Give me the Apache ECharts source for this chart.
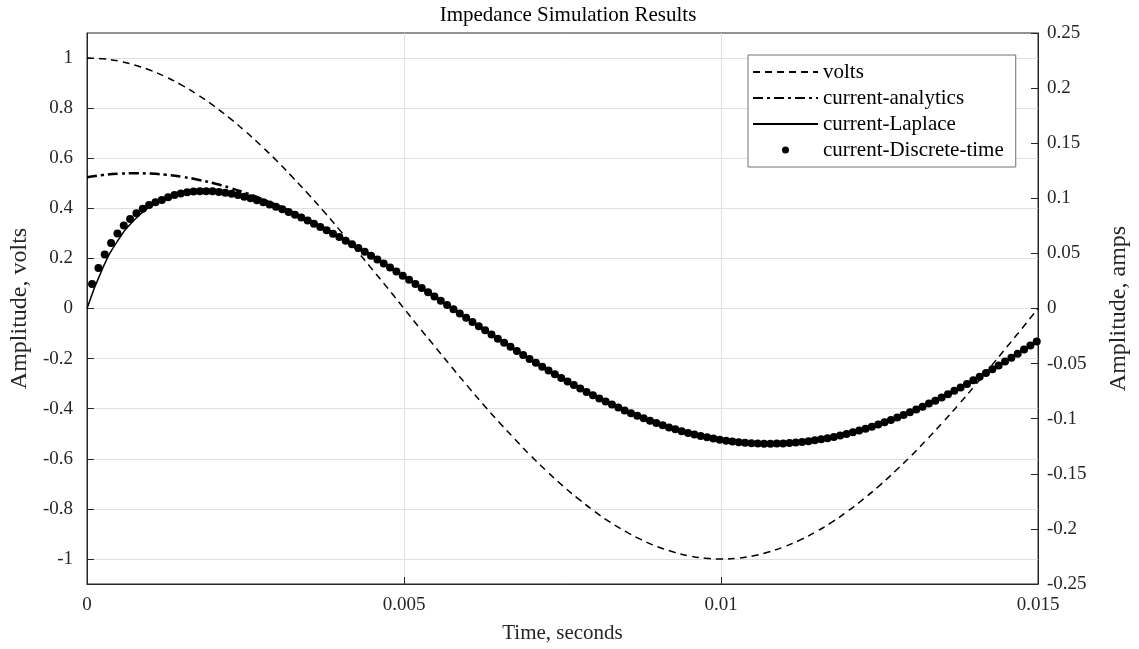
<!DOCTYPE html>
<html>
<head>
<meta charset="utf-8">
<title>Impedance Simulation Results</title>
<script src="https://cdn.jsdelivr.net/npm/echarts@6/dist/echarts.min.js"></script>
<style>
  html, body { margin: 0; padding: 0; background: #fff; }
  #chart { width: 1139px; height: 649px; }
</style>
</head>
<body>
<div id="chart"></div>
<script>
// sample step of the line curves (seconds)
const lineStep = 0.00025;
// discrete-time samples: first instant and step (seconds)
const dotStart = 0.00008;
const dotStep = 0.0001;

// volts, left axis
const volts = [
  1, 0.997, 0.988, 0.972, 0.951, 0.924, 0.891, 0.853, 0.809, 0.760,
  0.707, 0.649, 0.588, 0.522, 0.454, 0.383, 0.309, 0.233, 0.156, 0.079,
  0, -0.079, -0.156, -0.233, -0.309, -0.383, -0.454, -0.522, -0.588, -0.649,
  -0.707, -0.760, -0.809, -0.853, -0.891, -0.924, -0.951, -0.972, -0.988, -0.997,
  -1, -0.997, -0.988, -0.972, -0.951, -0.924, -0.891, -0.853, -0.809, -0.760,
  -0.707, -0.649, -0.588, -0.522, -0.454, -0.383, -0.309, -0.233, -0.156, -0.079,
  0
];

// current (amps), right axis
const currentAnalytic = [
  0.1192, 0.1211, 0.1223, 0.1227, 0.1224, 0.1213, 0.1195, 0.1169, 0.1136, 0.1096,
  0.1049, 0.0996, 0.0937, 0.0872, 0.0801, 0.0726, 0.0646, 0.0562, 0.0475, 0.0384,
  0.0292, 0.0197, 0.0102, 0.0005, -0.0091, -0.0187, -0.0281, -0.0374, -0.0465, -0.0552,
  -0.0637, -0.0717, -0.0793, -0.0864, -0.0930, -0.0990, -0.1044, -0.1091, -0.1132, -0.1166,
  -0.1192, -0.1211, -0.1223, -0.1227, -0.1224, -0.1213, -0.1195, -0.1169, -0.1136, -0.1096,
  -0.1049, -0.0996, -0.0937, -0.0872, -0.0801, -0.0726, -0.0646, -0.0562, -0.0475, -0.0384,
  -0.0292
];

const currentLaplace = [
  0, 0.0369, 0.0628, 0.0806, 0.0927, 0.1003, 0.1047, 0.1064, 0.1062, 0.1044,
  0.1012, 0.0970, 0.0919, 0.0859, 0.0792, 0.0719, 0.0641, 0.0559, 0.0473, 0.0382,
  0.0291, 0.0196, 0.0101, 0.0004, -0.0092, -0.0188, -0.0281, -0.0374, -0.0465, -0.0552,
  -0.0637, -0.0717, -0.0793, -0.0864, -0.0930, -0.0990, -0.1044, -0.1091, -0.1132, -0.1166,
  -0.1192, -0.1211, -0.1223, -0.1227, -0.1224, -0.1213, -0.1195, -0.1169, -0.1136, -0.1096,
  -0.1049, -0.0996, -0.0937, -0.0872, -0.0801, -0.0726, -0.0646, -0.0562, -0.0475, -0.0384,
  -0.0292
];

const currentDiscrete = [
  0.0222, 0.0368, 0.0490, 0.0595, 0.0680, 0.0753, 0.0813, 0.0864, 0.0905, 0.0939,
  0.0965, 0.0985, 0.1010, 0.1029, 0.1044, 0.1054, 0.1061, 0.1065, 0.1065, 0.1063,
  0.1058, 0.1050, 0.1041, 0.1029, 0.1015, 0.1000, 0.0983, 0.0964, 0.0944, 0.0923,
  0.0900, 0.0876, 0.0851, 0.0825, 0.0798, 0.0770, 0.0740, 0.0710, 0.0679, 0.0648,
  0.0615, 0.0582, 0.0549, 0.0514, 0.0479, 0.0444, 0.0408, 0.0372, 0.0335, 0.0298,
  0.0261, 0.0223, 0.0185, 0.0147, 0.0109, 0.0071, 0.0032, -0.0006, -0.0045, -0.0083,
  -0.0122, -0.0160, -0.0198, -0.0236, -0.0274, -0.0311, -0.0348, -0.0385, -0.0422, -0.0458,
  -0.0493, -0.0528, -0.0563, -0.0597, -0.0630, -0.0663, -0.0695, -0.0726, -0.0757, -0.0787,
  -0.0816, -0.0844, -0.0872, -0.0899, -0.0925, -0.0950, -0.0974, -0.0997, -0.1019, -0.1040,
  -0.1060, -0.1079, -0.1096, -0.1113, -0.1129, -0.1143, -0.1157, -0.1169, -0.1180, -0.1190,
  -0.1199, -0.1207, -0.1213, -0.1218, -0.1222, -0.1225, -0.1227, -0.1227, -0.1226, -0.1224,
  -0.1221, -0.1217, -0.1211, -0.1204, -0.1196, -0.1187, -0.1177, -0.1165, -0.1153, -0.1139,
  -0.1124, -0.1108, -0.1091, -0.1072, -0.1053, -0.1033, -0.1012, -0.0989, -0.0966, -0.0942,
  -0.0917, -0.0891, -0.0863, -0.0836, -0.0807, -0.0778, -0.0747, -0.0716, -0.0685, -0.0652,
  -0.0619, -0.0586, -0.0552, -0.0517, -0.0482, -0.0446, -0.0410, -0.0373, -0.0336, -0.0299
];

// tick labels
const leftTicks = [-1, -0.8, -0.6, -0.4, -0.2, 0, 0.2, 0.4, 0.6, 0.8, 1];

const seriesNames = ['volts', 'current-analytics', 'current-Laplace', 'current-Discrete-time'];

// [t, value] pairs
const linePairs = arr => arr.map((v, i) => [+(i * lineStep).toFixed(6), v]);
const dotPairs = arr => arr.map((v, i) => [+(dotStart + i * dotStep).toFixed(6), v]);

const font = 'Liberation Serif';
const axisColor = '#262626';
const gridColor = '#e0e0e0';
const noMarker = { opacity: 0 };

const chart = echarts.init(document.getElementById('chart'), null, { renderer: 'canvas' });

chart.setOption({
  backgroundColor: '#fff',
  animation: false,
  title: {
    text: 'Impedance Simulation Results',
    left: 563,
    top: 0,
    textAlign: 'center',
    textStyle: { fontFamily: font, fontSize: 21, fontWeight: 'normal', color: '#000' }
  },
  legend: {
    orient: 'vertical',
    left: 748,
    top: 55,
    padding: [6, 12, 6, 4],
    itemGap: 4,
    itemWidth: 65,
    itemHeight: 7,
    backgroundColor: '#fff',
    borderColor: '#707070',
    borderWidth: 1,
    borderRadius: 0,
    textStyle: { fontFamily: font, fontSize: 21, lineHeight: 22, color: '#000' },
    data: [
      { name: seriesNames[0], itemStyle: noMarker },
      { name: seriesNames[1], itemStyle: noMarker },
      { name: seriesNames[2], itemStyle: noMarker },
      { name: seriesNames[3], icon: 'circle' }
    ]
  },
  grid: {
    left: 87,
    right: 99,
    top: 33,
    bottom: 63,
    show: true,
    borderColor: axisColor,
    borderWidth: 1,
    backgroundColor: '#fff'
  },
  xAxis: {
    type: 'value',
    min: 0,
    max: 0.015,
    interval: 0.005,
    name: 'Time, seconds',
    nameLocation: 'middle',
    nameGap: 39,
    nameTextStyle: { fontFamily: font, fontSize: 21, color: '#262626' },
    axisLine: { show: true, onZero: false, lineStyle: { color: axisColor } },
    axisTick: { show: true, inside: true, length: 7, lineStyle: { color: axisColor } },
    axisLabel: { fontFamily: font, fontSize: 19, color: '#262626', margin: 12 },
    splitLine: { show: true, lineStyle: { color: gridColor, width: 1 } }
  },
  yAxis: [
    {
      type: 'value',
      position: 'left',
      min: -1.1,
      max: 1.1,
      name: 'Amplitude, volts',
      nameLocation: 'middle',
      nameRotate: 90,
      nameGap: 53,
      nameTextStyle: { fontFamily: font, fontSize: 24, color: '#262626' },
      axisLine: { show: true, onZero: false, lineStyle: { color: axisColor } },
      axisTick: { show: true, inside: true, length: 7, customValues: leftTicks, lineStyle: { color: axisColor } },
      axisLabel: { fontFamily: font, fontSize: 19, color: '#262626', margin: 14, customValues: leftTicks },
      splitLine: { show: true, lineStyle: { color: gridColor, width: 1 } }
    },
    {
      type: 'value',
      position: 'right',
      min: -0.25,
      max: 0.25,
      interval: 0.05,
      name: 'Amplitude, amps',
      nameLocation: 'middle',
      nameRotate: 90,
      nameGap: 69,
      nameTextStyle: { fontFamily: font, fontSize: 24, color: '#262626' },
      axisLine: { show: true, onZero: false, lineStyle: { color: axisColor } },
      axisTick: { show: true, inside: true, length: 7, lineStyle: { color: axisColor } },
      axisLabel: { fontFamily: font, fontSize: 19, color: '#262626', margin: 9 },
      splitLine: { show: false }
    }
  ],
  series: [
    {
      name: seriesNames[0],
      type: 'line',
      yAxisIndex: 0,
      data: linePairs(volts),
      smooth: true,
      symbol: 'none',
      lineStyle: { color: '#000', width: 1.5, type: [7, 5] },
      itemStyle: { color: '#000' },
      z: 2
    },
    {
      name: seriesNames[1],
      type: 'line',
      yAxisIndex: 1,
      data: linePairs(currentAnalytic),
      smooth: true,
      symbol: 'none',
      lineStyle: { color: '#000', width: 2.5, type: [10, 4, 3, 4] },
      itemStyle: { color: '#000' },
      z: 3
    },
    {
      name: seriesNames[2],
      type: 'line',
      yAxisIndex: 1,
      data: linePairs(currentLaplace),
      smooth: true,
      symbol: 'none',
      lineStyle: { color: '#000', width: 1.5 },
      itemStyle: { color: '#000' },
      z: 4
    },
    {
      name: seriesNames[3],
      type: 'scatter',
      yAxisIndex: 1,
      data: dotPairs(currentDiscrete),
      symbol: 'circle',
      symbolSize: 8,
      itemStyle: { color: '#000', opacity: 1 },
      z: 5
    }
  ]
});
</script>
</body>
</html>
